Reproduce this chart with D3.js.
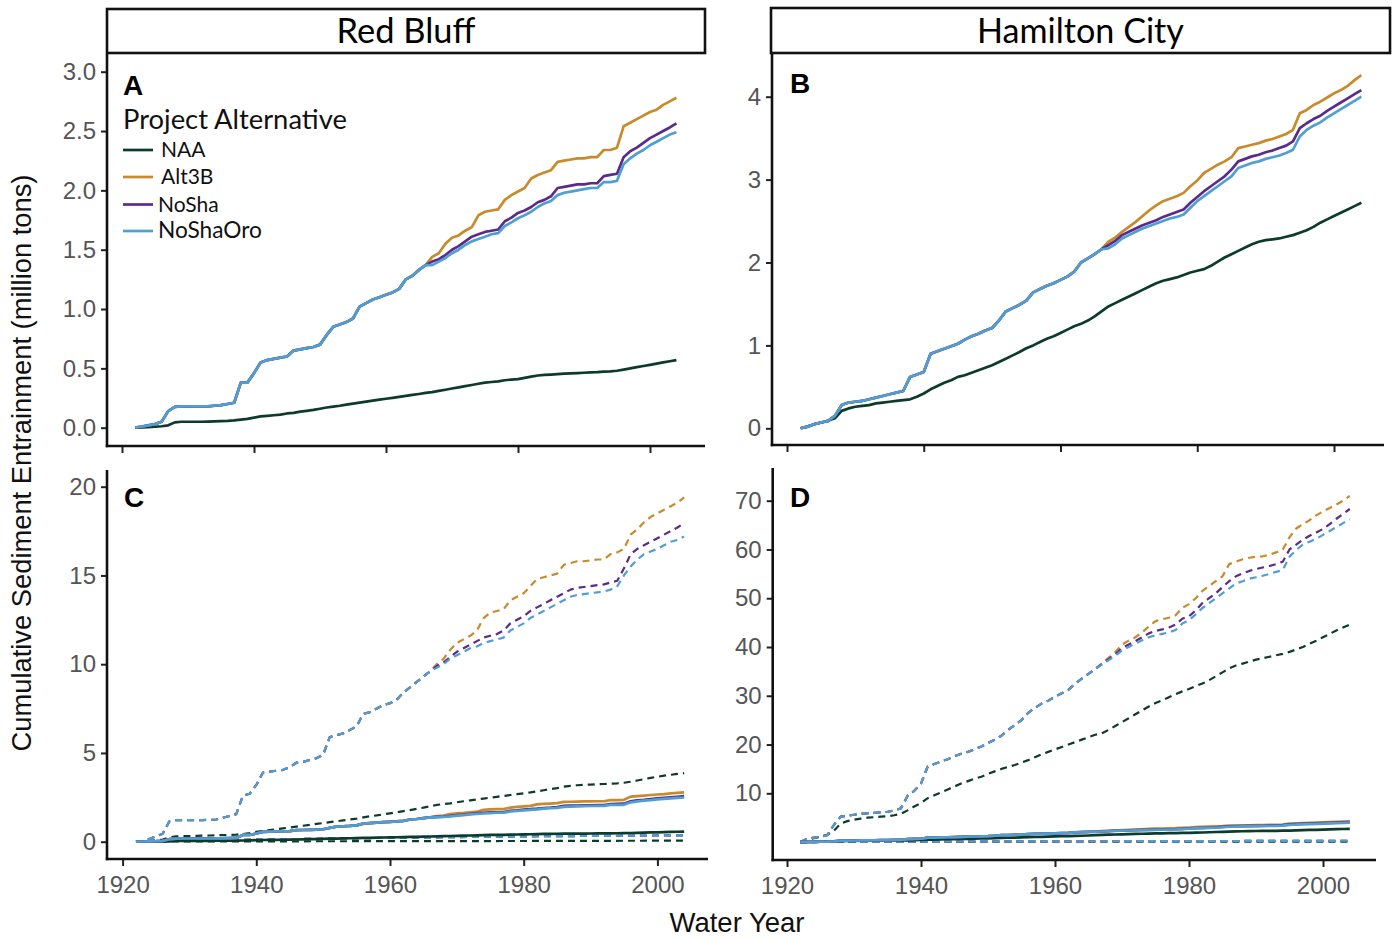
<!DOCTYPE html>
<html><head><meta charset="utf-8">
<script src="https://cdn.jsdelivr.net/npm/d3@7"></script>
<style>body{margin:0;background:#fff}svg{display:block}</style>
</head><body>
<svg id="chart" width="1395" height="938"></svg>
<script>
// ---------- DATA (water years 1922..2004) ----------
const years = d3.range(1922, 2005);
const xTicks = [1920, 1940, 1960, 1980, 2000];
const seriesNames = ["NAA", "Alt3B", "NoSha", "NoShaOro"];
const colors = {NAA: "#0c3b2d", Alt3B: "#c98a2b", NoSha: "#5b2b8c", NoShaOro: "#4f9fd4"};

// Red Bluff, mean (panel A, solid in C)
const rbNAA = [0,0.002,0.005,0.008,0.012,0.02,0.045,0.05,0.05,0.05,0.05,0.052,0.054,0.056,0.058,0.062,0.068,0.075,0.085,0.095,0.10,0.105,0.11,0.12,0.125,0.135,0.142,0.15,0.16,0.17,0.178,0.185,0.195,0.203,0.212,0.22,0.228,0.236,0.244,0.252,0.26,0.268,0.276,0.284,0.293,
  0.30,0.31,0.32,0.33,0.34,0.35,0.36,0.37,0.38,0.385,0.39,0.40,0.405,0.41,0.42,0.43,0.44,0.445,0.448,0.452,0.455,0.458,0.46,0.463,0.466,0.468,0.472,0.475,0.48,0.49,0.50,0.51,0.52,0.53,0.54,0.55,0.56,0.57];
const rbEarly = [0,0.01,0.02,0.03,0.05,0.14,0.175,0.18,0.18,0.18,0.18,0.18,0.185,0.19,0.20,0.21,0.38,0.38,0.46,0.55,0.57,0.58,0.59,0.60,0.65,0.66,0.67,0.68,0.70,0.78,0.85,0.87,0.89,0.92,1.02,1.05,1.08,1.10,1.12,1.14,1.17,1.25,1.28,1.33,1.37];
const rbAlt3B = rbEarly.concat([1.44,1.47,1.55,1.60,1.62,1.66,1.69,1.79,1.82,1.83,1.84,1.92,1.96,1.99,2.02,2.10,2.13,2.15,2.17,2.24,2.25,2.26,2.27,2.27,2.28,2.28,2.34,2.34,2.36,2.54,2.57,2.60,2.63,2.66,2.68,2.72,2.75,2.78]);
const rbNoSha = rbEarly.concat([1.40,1.42,1.455,1.50,1.53,1.57,1.61,1.63,1.65,1.66,1.67,1.74,1.77,1.81,1.83,1.86,1.90,1.92,1.95,2.02,2.03,2.04,2.05,2.05,2.06,2.06,2.12,2.13,2.14,2.28,2.33,2.36,2.40,2.44,2.47,2.50,2.53,2.565]);
const rbNoShaOro = rbEarly.concat([1.37,1.40,1.43,1.47,1.50,1.54,1.57,1.59,1.61,1.63,1.64,1.70,1.73,1.765,1.79,1.82,1.86,1.89,1.91,1.96,1.98,1.99,2.00,2.01,2.02,2.02,2.07,2.07,2.08,2.22,2.27,2.31,2.34,2.38,2.41,2.44,2.47,2.49]);

// Hamilton City, mean (panel B, solid in D)
const hcNAA = [0,0.02,0.05,0.07,0.09,0.12,0.21,0.24,0.26,0.27,0.28,0.30,0.31,0.32,0.33,0.34,0.35,0.38,0.42,0.47,0.51,0.55,0.58,0.62,0.64,0.67,0.70,0.73,0.76,0.80,0.84,0.88,0.92,0.965,1.00,1.04,1.08,1.11,1.15,1.19,1.23,1.26,1.30,1.35,1.41,
  1.47,1.51,1.55,1.59,1.63,1.67,1.71,1.75,1.78,1.80,1.82,1.85,1.88,1.90,1.92,1.96,2.01,2.06,2.10,2.14,2.18,2.22,2.25,2.27,2.28,2.29,2.31,2.33,2.36,2.39,2.43,2.48,2.52,2.56,2.60,2.64,2.68,2.72];
const hcEarly = [0,0.02,0.05,0.07,0.09,0.15,0.28,0.31,0.32,0.33,0.35,0.37,0.39,0.41,0.43,0.45,0.62,0.65,0.68,0.90,0.93,0.96,0.99,1.02,1.07,1.11,1.14,1.18,1.21,1.30,1.41,1.45,1.49,1.54,1.64,1.68,1.72,1.75,1.79,1.83,1.89,2.0,2.05,2.10,2.16];
const hcAlt3B = hcEarly.concat([2.25,2.30,2.37,2.43,2.49,2.56,2.63,2.69,2.74,2.77,2.80,2.84,2.92,2.99,3.08,3.13,3.18,3.22,3.27,3.38,3.40,3.42,3.44,3.47,3.49,3.52,3.55,3.60,3.80,3.84,3.90,3.94,3.99,4.04,4.08,4.13,4.20,4.26]);
const hcNoSha = hcEarly.concat([2.21,2.26,2.33,2.37,2.41,2.45,2.48,2.51,2.55,2.58,2.61,2.64,2.72,2.79,2.86,2.92,2.98,3.04,3.12,3.22,3.25,3.28,3.30,3.33,3.35,3.38,3.41,3.46,3.62,3.68,3.73,3.77,3.83,3.88,3.93,3.98,4.03,4.08]);
const hcNoShaOro = hcEarly.concat([2.17,2.22,2.29,2.33,2.37,2.41,2.44,2.47,2.50,2.53,2.55,2.58,2.66,2.74,2.80,2.86,2.92,2.98,3.04,3.14,3.17,3.20,3.22,3.25,3.27,3.29,3.32,3.36,3.52,3.60,3.65,3.69,3.75,3.80,3.85,3.90,3.95,4.00]);

// Red Bluff, upper bound (dashed, panel C)
const rbHiNAA = [0,0.02,0.05,0.08,0.12,0.25,0.30,0.31,0.32,0.33,0.34,0.35,0.36,0.37,0.38,0.40,0.43,0.48,0.55,0.60,0.65,0.70,0.75,0.80,0.85,0.90,0.95,1.00,1.05,1.10,1.15,1.20,1.25,1.30,1.37,1.43,1.48,1.54,1.60,1.66,1.72,1.78,1.85,1.92,2.00,2.07,2.12,2.16,2.22,2.28,2.33,2.38,2.43,2.48,2.53,2.58,2.63,2.68,2.73,2.78,2.84,2.90,2.96,3.02,3.10,3.15,3.18,3.20,3.22,3.24,3.25,3.27,3.29,3.32,3.38,3.45,3.52,3.60,3.66,3.72,3.77,3.82,3.86];
const rbHiEarly = [0,0.05,0.15,0.3,0.45,1.15,1.22,1.22,1.22,1.22,1.22,1.23,1.25,1.35,1.45,1.55,2.6,2.7,3.2,3.9,3.95,4.0,4.05,4.2,4.45,4.5,4.6,4.7,4.9,5.9,6.0,6.1,6.3,6.5,7.2,7.3,7.5,7.7,7.8,8.0,8.4,8.7,9.0,9.3,9.6];
const rbHiAlt3B = rbHiEarly.concat([10.0,10.3,10.8,11.2,11.4,11.6,11.9,12.6,12.9,13.0,13.1,13.6,13.8,14.0,14.4,14.8,14.9,15.0,15.1,15.6,15.7,15.8,15.8,15.85,15.9,15.9,16.2,16.3,16.5,17.3,17.6,18.0,18.3,18.5,18.7,18.9,19.1,19.4]);
const rbHiNoSha = rbHiEarly.concat([9.9,10.1,10.4,10.7,10.9,11.1,11.3,11.5,11.6,11.7,11.9,12.3,12.5,12.7,13.0,13.2,13.4,13.6,13.8,14.0,14.2,14.3,14.35,14.4,14.45,14.5,14.6,14.7,15.4,16.2,16.5,16.7,16.9,17.1,17.3,17.5,17.7,17.95]);
const rbHiNoShaOro = rbHiEarly.concat([9.8,10.0,10.3,10.5,10.7,10.9,11.0,11.2,11.3,11.4,11.5,11.9,12.1,12.3,12.6,12.8,13.0,13.2,13.4,13.6,13.8,13.9,13.95,14.0,14.05,14.1,14.2,14.4,15.0,15.5,15.9,16.2,16.35,16.5,16.7,16.9,17.0,17.2]);

// Hamilton City, upper bound (dashed, panel D)
const hcHiNAA = [0,0.5,0.8,1.1,1.5,2.3,3.8,4.3,4.6,4.8,5.0,5.1,5.2,5.3,5.5,5.8,6.5,7.3,8.0,9.0,9.6,10.2,10.8,11.4,12.0,12.5,13.0,13.4,14.0,14.5,15.0,15.4,15.8,16.3,16.8,17.4,18.0,18.5,19.0,19.5,20.0,20.5,21.0,21.5,22.0,22.3,23.0,23.8,24.6,25.4,26.2,27.0,27.8,28.5,29.1,29.7,30.3,30.9,31.4,32.0,32.5,33.2,34.0,34.8,35.6,36.2,36.6,37.0,37.4,37.7,38.0,38.3,38.6,39.0,39.5,40.0,40.7,41.3,42.0,42.7,43.4,44.0,44.6];
const hcHiEarly = [0,0.7,0.9,1.1,1.4,3.5,5.2,5.4,5.6,5.8,5.9,6.0,6.1,6.2,6.5,6.9,9.5,10.5,12.0,15.5,16.0,16.5,17.0,17.6,18.1,18.5,19.0,19.6,20.3,21.0,21.8,23.0,24.0,25.0,26.5,27.5,28.4,29.0,29.8,30.5,31.2,32.5,33.5,34.5,35.5];
const hcHiAlt3B = hcHiEarly.concat([36.6,37.8,39.0,40.5,41.3,42.0,43.0,44.2,45.3,45.7,46.0,46.5,48.0,48.8,50.0,51.5,52.5,53.5,54.5,57.0,57.5,58.0,58.3,58.5,58.6,58.9,59.4,60.0,62.5,64.3,65.2,66.0,67.0,67.8,68.5,69.2,70.0,71.0]);
const hcHiNoSha = hcHiEarly.concat([36.5,37.5,38.5,39.8,40.5,41.2,42.0,42.8,43.3,43.6,44.0,44.6,45.8,46.3,47.5,49.0,50.0,51.0,52.3,53.5,54.5,55.1,55.6,56.0,56.3,56.6,57.0,57.5,60.0,61.0,62.0,62.8,63.5,64.2,65.2,66.3,67.3,68.3]);
const hcHiNoShaOro = hcHiEarly.concat([36.4,37.3,38.2,39.3,40.0,40.7,41.4,42.0,42.4,42.7,43.0,43.5,44.8,45.5,46.7,48.0,49.0,50.0,51.0,52.0,53.0,53.5,54.0,54.3,54.6,55.0,55.4,55.8,58.5,59.9,61.0,61.6,62.2,63.0,63.8,64.6,65.4,66.2]);

// Lower bounds (dashed, read at a few years)
const lowYears = [1922, 1927, 1940, 1960, 1980, 2004];
const rbLoAlt = [0, 0.05, 0.12, 0.22, 0.30, 0.36];
const rbLoNAA = [0, 0.01, 0.02, 0.03, 0.04, 0.06];
const hcLoAlt = [0, 0.05, 0.10, 0.15, 0.20, 0.27];
const hcLoNAA = [0, 0.02, 0.04, 0.06, 0.08, 0.10];

const yTicksA = [0, 0.5, 1.0, 1.5, 2.0, 2.5, 3.0];
const yTicksB = [0, 1, 2, 3, 4];
const yTicksC = [0, 5, 10, 15, 20];
const yTicksD = [10, 20, 30, 40, 50, 60, 70];

// ---------- DRAW ----------
const svg = d3.select("#chart");
const zip = (xs, vs) => xs.map((x, i) => [x, vs[i]]);

const panels = [
  {letter: "A", xr: [122, 650], yd: [0, 3], yr: [427.7, 71.7], L: 107, R: 705, T: 54, B: 446,
   yt: yTicksA, yf: d3.format(".1f"), xlab: false, lx: 123, ly: 95,
   series: [
     {k: "NAA", v: rbNAA}, {k: "Alt3B", v: rbAlt3B}, {k: "NoSha", v: rbNoSha}, {k: "NoShaOro", v: rbNoShaOro}]},
  {letter: "B", xr: [787, 1334], yd: [0, 4], yr: [428.3, 96.7], L: 772, R: 1384, T: 54, B: 445,
   yt: yTicksB, yf: d3.format("d"), xlab: false, lx: 790, ly: 93,
   series: [
     {k: "NAA", v: hcNAA}, {k: "Alt3B", v: hcAlt3B}, {k: "NoSha", v: hcNoSha}, {k: "NoShaOro", v: hcNoShaOro}]},
  {letter: "C", xr: [122.6, 657.4], yd: [0, 20], yr: [841.7, 486.7], L: 107, R: 708, T: 470, B: 859,
   yt: yTicksC, yf: d3.format("d"), xlab: true, lx: 124, ly: 507,
   series: [
     {k: "NAA", v: rbLoNAA, x: lowYears, dash: true}, {k: "Alt3B", v: rbLoAlt, x: lowYears, dash: true},
     {k: "NoSha", v: rbLoAlt, x: lowYears, dash: true}, {k: "NoShaOro", v: rbLoAlt, x: lowYears, dash: true},
     {k: "NAA", v: rbHiNAA, dash: true}, {k: "Alt3B", v: rbHiAlt3B, dash: true},
     {k: "NoSha", v: rbHiNoSha, dash: true}, {k: "NoShaOro", v: rbHiNoShaOro, dash: true},
     {k: "NAA", v: rbNAA}, {k: "Alt3B", v: rbAlt3B}, {k: "NoSha", v: rbNoSha}, {k: "NoShaOro", v: rbNoShaOro}]},
  {letter: "D", xr: [787, 1323], yd: [10, 70], yr: [793.3, 500.7], L: 772.7, R: 1376, T: 468, B: 860,
   yt: yTicksD, yf: d3.format("d"), xlab: true, lx: 790, ly: 507,
   series: [
     {k: "NAA", v: hcLoNAA, x: lowYears, dash: true}, {k: "Alt3B", v: hcLoAlt, x: lowYears, dash: true},
     {k: "NoSha", v: hcLoAlt, x: lowYears, dash: true}, {k: "NoShaOro", v: hcLoAlt, x: lowYears, dash: true},
     {k: "NAA", v: hcHiNAA, dash: true}, {k: "Alt3B", v: hcHiAlt3B, dash: true},
     {k: "NoSha", v: hcHiNoSha, dash: true}, {k: "NoShaOro", v: hcHiNoShaOro, dash: true},
     {k: "NAA", v: hcNAA}, {k: "Alt3B", v: hcAlt3B}, {k: "NoSha", v: hcNoSha}, {k: "NoShaOro", v: hcNoShaOro}]}
];

panels.forEach(p => {
  const x = d3.scaleLinear().domain([1920, 2000]).range(p.xr);
  const y = d3.scaleLinear().domain(p.yd).range(p.yr);
  const g = svg.append("g");

  const line = d3.line().x(d => x(d[0])).y(d => y(d[1]));
  p.series.forEach(s => {
    g.append("path")
      .attr("d", line(zip(s.x || years, s.v)))
      .attr("fill", "none")
      .attr("stroke", colors[s.k])
      .attr("stroke-width", s.dash ? 2.2 : 2.7)
      .attr("stroke-linejoin", "round")
      .attr("stroke-dasharray", s.dash ? "7,5" : null);
  });

  const ya = g.append("g").attr("transform", `translate(${p.L},0)`)
    .call(d3.axisLeft(y).tickValues(p.yt).tickFormat(p.yf).tickSize(6).tickPadding(5));
  ya.select(".domain").remove();
  ya.selectAll(".tick line").attr("stroke", "#222").attr("stroke-width", 2);
  ya.selectAll(".tick text").attr("font-family", "Liberation Sans, Arial, sans-serif")
    .attr("font-size", 24).attr("fill", "#555");

  const xa = g.append("g").attr("transform", `translate(0,${p.B})`)
    .call(d3.axisBottom(x).tickValues(xTicks).tickFormat(p.xlab ? d3.format("d") : () => "").tickSize(7).tickPadding(10));
  xa.select(".domain").remove();
  xa.selectAll(".tick line").attr("stroke", "#222").attr("stroke-width", 2);
  xa.selectAll(".tick text").attr("font-family", "Liberation Sans, Arial, sans-serif")
    .attr("font-size", 24).attr("fill", "#555");

  g.append("line").attr("x1", p.L).attr("x2", p.L).attr("y1", p.T).attr("y2", p.B + 1.2)
    .attr("stroke", "#111").attr("stroke-width", 2.6);
  g.append("line").attr("x1", p.L - 1.2).attr("x2", p.R).attr("y1", p.B).attr("y2", p.B)
    .attr("stroke", "#111").attr("stroke-width", 2.6);

  g.append("text").attr("x", p.lx).attr("y", p.ly).text(p.letter)
    .attr("font-family", "Liberation Sans, Arial, sans-serif").attr("font-weight", "bold")
    .attr("font-size", 28).attr("fill", "#000");
});

function fitWidth(sel, w) {
  const cur = sel.node().getComputedTextLength();
  const fs = parseFloat(sel.attr("font-size"));
  sel.attr("font-size", fs * w / cur);
}

// strips
const strips = [
  {label: "Red Bluff", x0: 107, x1: 705, y0: 9, y1: 53, w: 139},
  {label: "Hamilton City", x0: 771, x1: 1390, y0: 8, y1: 53, w: 207}
];
strips.forEach(s => {
  svg.append("rect").attr("x", s.x0).attr("y", s.y0).attr("width", s.x1 - s.x0).attr("height", s.y1 - s.y0)
    .attr("fill", "#fff").attr("stroke", "#111").attr("stroke-width", 2.6);
  const t = svg.append("text").attr("x", (s.x0 + s.x1) / 2).attr("y", 43).attr("text-anchor", "middle")
    .attr("font-family", "Lato, 'Open Sans', sans-serif").attr("font-size", 30).attr("fill", "#000").text(s.label);
  fitWidth(t, s.w);
});

// legend
const lt = svg.append("text").attr("x", 123).attr("y", 129).text("Project Alternative")
  .attr("font-family", "Lato, 'Open Sans', sans-serif").attr("font-size", 26).attr("fill", "#111");
fitWidth(lt, 224);
const legX = [161, 161, 158, 158];
const legY = [157, 184, 211.5, 238];
seriesNames.forEach((n, i) => {
  svg.append("line").attr("x1", 123).attr("x2", 153).attr("y1", legY[i] - 7).attr("y2", legY[i] - 7)
    .attr("stroke", colors[n]).attr("stroke-width", 2.7);
  const t = svg.append("text").attr("x", legX[i]).attr("y", legY[i]).text(n)
    .attr("font-family", "Lato, 'Open Sans', sans-serif").attr("font-size", 21).attr("fill", "#111");
  if (n === "NoShaOro") fitWidth(t, 104);
});

// axis titles
const yt = svg.append("text").attr("transform", "translate(31,463) rotate(-90)").attr("text-anchor", "middle")
  .attr("font-family", "Liberation Sans, Arial, sans-serif").attr("font-size", 25).attr("fill", "#111")
  .text("Cumulative Sediment Entrainment (million tons)");
fitWidth(yt, 577);
const xt = svg.append("text").attr("x", 737).attr("y", 932).attr("text-anchor", "middle")
  .attr("font-family", "Liberation Sans, Arial, sans-serif").attr("font-size", 25).attr("fill", "#111")
  .text("Water Year");
fitWidth(xt, 135);
</script>
</body></html>
